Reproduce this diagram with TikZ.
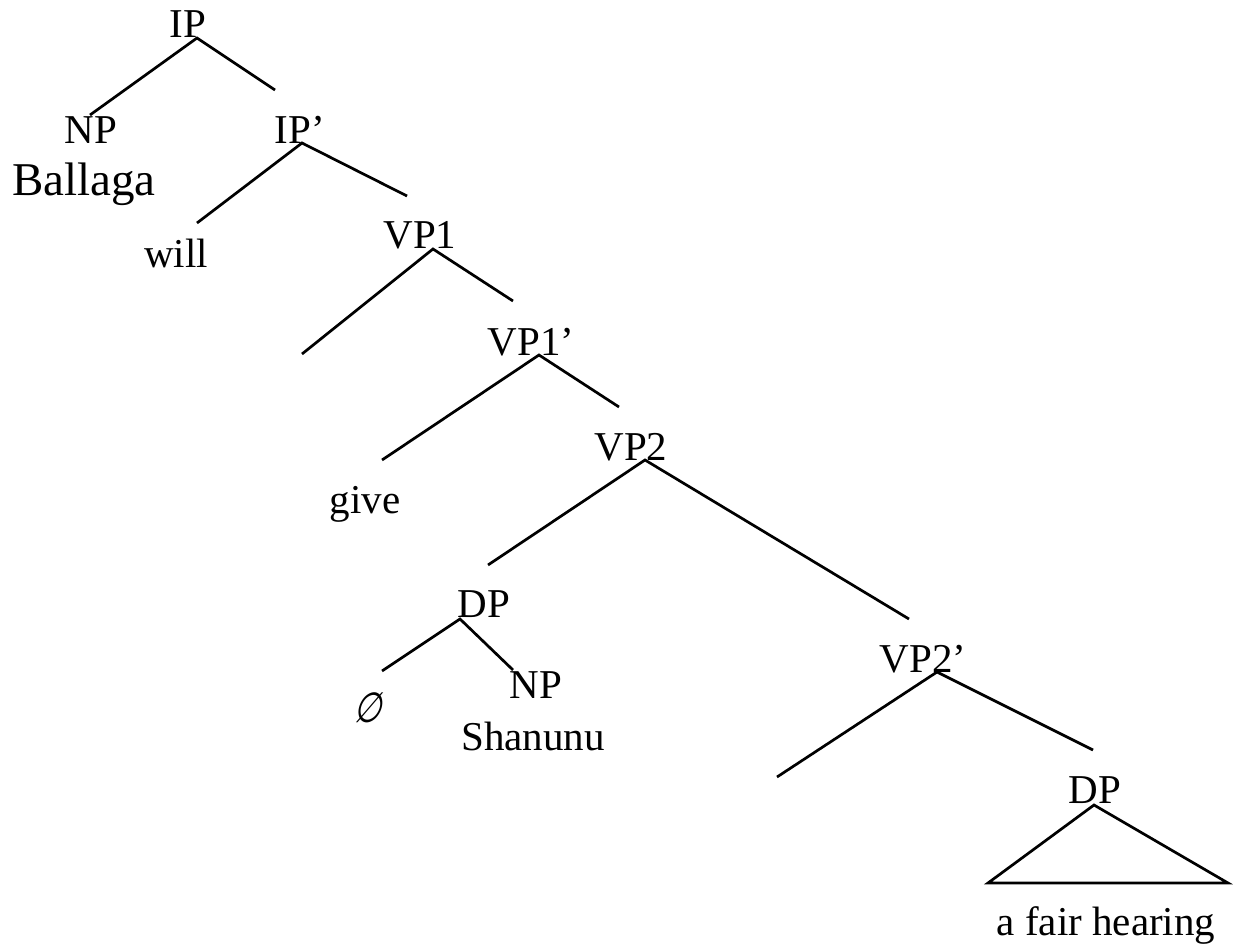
\documentclass[tikz,border=0pt]{standalone}
\usepackage{fontspec}
\setmainfont{Liberation Serif}
\newfontfamily\symfont[FakeSlant=0.25,FakeStretch=0.75]{DejaVu Sans}
\begin{document}
\begin{tikzpicture}[x=1pt,y=-1pt,
  lbl/.style={anchor=base,inner sep=0pt,font=\fontsize{41}{49}\selectfont},
  branch/.style={line width=2.7pt}]
\useasboundingbox (0,0) rectangle (1233,944);
% labels
\node[lbl] (ip) at (188,38) {IP};
\node[lbl] (np1) at (91,144) {NP};
\node[lbl,font=\fontsize{47}{56}\selectfont] (ballaga) at (84,195) {Ballaga};
\node[lbl] (ipbar) at (300,144) {IP’};
\node[lbl] (will) at (176,267) {will};
\node[lbl] (vp1) at (420,248) {VP1};
\node[lbl] (vp1bar) at (531,355) {VP1’};
\node[lbl] (vp2) at (631,460) {VP2};
\node[lbl] (give) at (365,513) {give};
\node[lbl] (dp1) at (484,617) {DP};
\node[anchor=base,inner sep=0pt,font=\fontsize{42}{48}\symfont] (empty) at (367,722) {∅};
\node[lbl] (np2) at (536,698) {NP};
\node[lbl] (shanunu) at (533,750) {Shanunu};
\node[lbl] (vp2bar) at (923,672) {VP2’};
\node[lbl] (dp2) at (1095,803) {DP};
\node[lbl] (afh) at (1106,935) {a fair hearing};
% branch points
\coordinate (ipA) at (197,38);   \coordinate (ipL) at (90,115);   \coordinate (ipR) at (275,90);
\coordinate (ipbA) at (302,143); \coordinate (ipbL) at (197,223); \coordinate (ipbR) at (407,196);
\coordinate (vp1A) at (433,249); \coordinate (vp1L) at (302,354); \coordinate (vp1R) at (513,301);
\coordinate (vp1bA) at (539,355);\coordinate (vp1bL) at (382,460);\coordinate (vp1bR) at (619,407);
\coordinate (vp2A) at (645,460); \coordinate (vp2L) at (488,565); \coordinate (vp2R) at (909,619);
\coordinate (dp1A) at (460,619); \coordinate (dp1L) at (382,671); \coordinate (dp1R) at (513,670);
\coordinate (vp2bA) at (937,672);\coordinate (vp2bL) at (777,777);\coordinate (vp2bR) at (1093,750);
\coordinate (dp2A) at (1094,805);\coordinate (dp2L) at (988,883); \coordinate (dp2R) at (1228,883);
% branches
\draw[branch] (ipL) -- (ipA) -- (ipR);
\draw[branch] (ipbL) -- (ipbA) -- (ipbR);
\draw[branch] (vp1L) -- (vp1A) -- (vp1R);
\draw[branch] (vp1bL) -- (vp1bA) -- (vp1bR);
\draw[branch] (vp2L) -- (vp2A) -- (vp2R);
\draw[branch] (dp1L) -- (dp1A) -- (dp1R);
\draw[branch] (vp2bL) -- (vp2bA) -- (vp2bR);
\draw[branch,line join=miter] (dp2A) -- (dp2L) -- (dp2R) -- cycle;
\end{tikzpicture}
\end{document}
